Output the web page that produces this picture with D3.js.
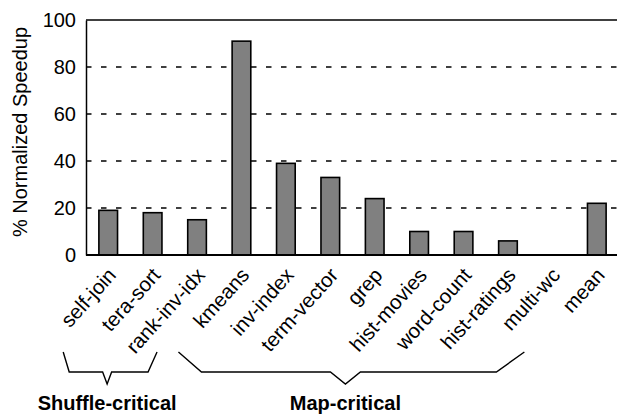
<!DOCTYPE html>
<html><head><meta charset="utf-8">
<script src="https://cdn.jsdelivr.net/npm/d3@7"></script>
<style>html,body{margin:0;padding:0;background:#fff;}svg{display:block;}</style>
</head><body>
<svg id="chart" width="617" height="415"></svg>
<script>
const categories = ["self-join","tera-sort","rank-inv-idx","kmeans","inv-index","term-vector","grep","hist-movies","word-count","hist-ratings","multi-wc","mean"];
const speedup = [19, 18, 15, 91, 39, 33, 24, 10, 10, 6, 0, 22];
const yTicks = [0, 20, 40, 60, 80, 100];
const yLabel = "% Normalized Speedup";
const groupNames = ["Shuffle-critical", "Map-critical"];
const groupFrom = [0, 3];
const groupTo = [2, 10];

const svg = d3.select("#chart");
const font = "'Liberation Sans', Arial, Helvetica, sans-serif";
const L = 86, R = 619, T = 20, B = 255;

const x = d3.scaleBand().domain(categories).range([L, R]).paddingInner(0.58).paddingOuter(0.29);
const y = d3.scaleLinear().domain([0, 100]).range([B, T]);

// grid lines
svg.append("g").selectAll("line").data(yTicks.filter(t => t > 0 && t < 100)).join("line")
  .attr("x1", L).attr("x2", 617).attr("y1", d => y(d)).attr("y2", d => y(d))
  .attr("stroke", "#000").attr("stroke-width", 1.3).attr("stroke-dasharray", "5.5,9.5");
// top line
svg.append("line").attr("x1", L).attr("x2", 617).attr("y1", y(100)).attr("y2", y(100))
  .attr("stroke", "#000").attr("stroke-width", 1.3);

// bars
svg.append("g").selectAll("rect").data(categories).join("rect")
  .attr("x", d => x(d)).attr("width", x.bandwidth())
  .attr("y", (d, i) => y(speedup[i])).attr("height", (d, i) => B - y(speedup[i]))
  .attr("fill", "#808080").attr("stroke", "#000").attr("stroke-width", 1.6);

// y axis
const yAxis = d3.axisLeft(y).tickValues(yTicks).tickSize(0).tickPadding(10).tickFormat(d3.format("d"));
const ya = svg.append("g").attr("transform", `translate(${L},0)`).call(yAxis);
ya.select(".domain").attr("stroke", "#000").attr("stroke-width", 1.5);
ya.selectAll("text").attr("font-family", font).attr("font-size", 20).attr("fill", "#000");

// x axis
const xAxis = d3.axisBottom(x).tickSize(0).tickPadding(0);
const xa = svg.append("g").attr("transform", `translate(0,${B})`).call(xAxis);
xa.select(".domain").attr("d", `M${L},0H617`).attr("stroke", "#000").attr("stroke-width", 2.2);
xa.selectAll("text")
  .attr("font-family", font).attr("font-size", 20.5).attr("fill", "#000")
  .attr("text-anchor", "end").attr("dy", null).attr("y", 0)
  .attr("transform", "translate(9,21) rotate(-48)");

// y label
svg.append("text").attr("transform", "translate(27,132) rotate(-90)")
  .attr("text-anchor", "middle").attr("font-family", font).attr("font-size", 20)
  .text(yLabel);

// braces
const braceGeom = [
  {l: -45, r: -40, armL: 6, armR: 9, tipDx: -3},
  {l: -63, r: -28, armL: 23, armR: 28, tipDx: -6}
];
groupNames.forEach((name, i) => {
  const g = braceGeom[i];
  const xl = x(categories[groupFrom[i]]) + x.bandwidth() / 2 + g.l;
  const xr = x(categories[groupTo[i]]) + x.bandwidth() / 2 + g.r;
  const mid = (xl + xr) / 2 + g.tipDx;
  const yt = 352, yh = 372, yTip = 384;
  const tipW = i === 0 ? 4.5 : 15;
  const pts = [[xl, yt], [xl + g.armL, yh], [mid - tipW, yh], [mid, yTip], [mid + tipW, yh], [xr - g.armR, yh], [xr, yt]];
  svg.append("path").attr("d", d3.line()(pts)).attr("fill", "none")
    .attr("stroke", "#000").attr("stroke-width", 1.4);
  svg.append("text").attr("x", mid).attr("y", 410).attr("text-anchor", "middle")
    .attr("font-family", font).attr("font-size", 20).attr("font-weight", "bold").text(name);
});
</script>
</body></html>
